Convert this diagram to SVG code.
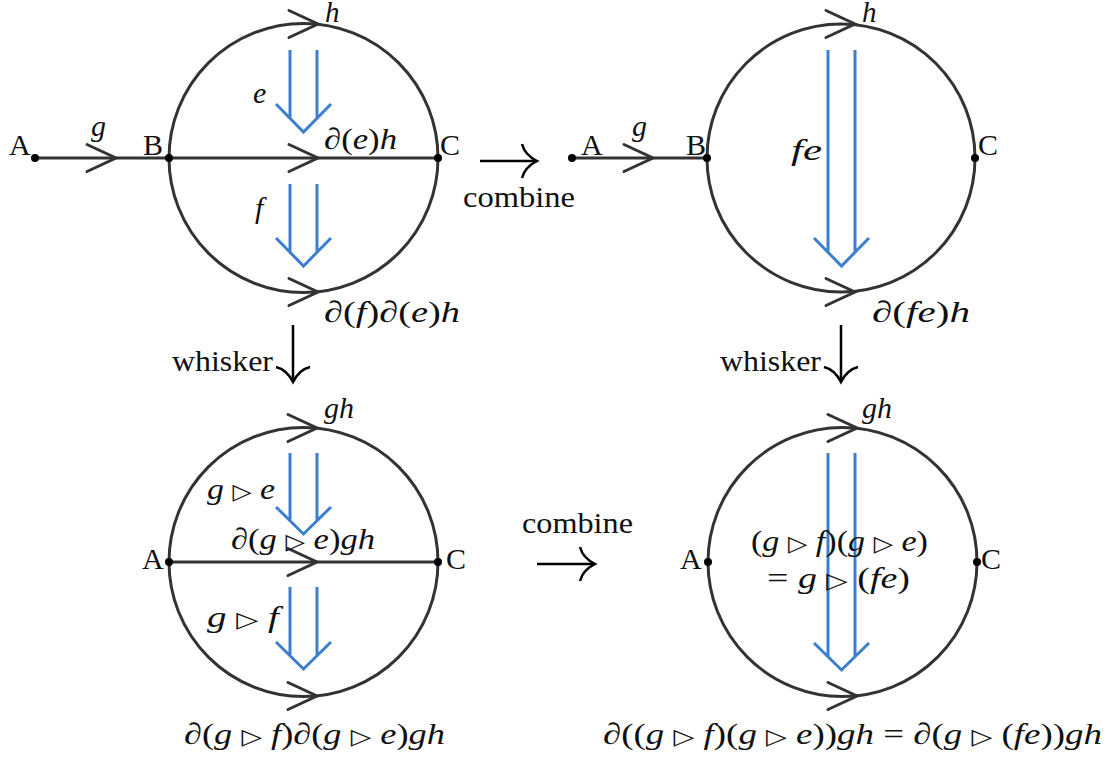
<svg xmlns="http://www.w3.org/2000/svg" xmlns:xlink="http://www.w3.org/1999/xlink" width="1111" height="760" viewBox="0 0 1111 760">
<style>
.ln{stroke:#333;stroke-width:3;fill:none;stroke-linecap:round}
.bl{stroke:#3d7fcf;stroke-width:3;fill:none}
.ar{stroke:#000;stroke-width:2.5;fill:none}
.dot{fill:#000}
.t{font-family:"Liberation Serif","DejaVu Serif",serif;font-size:30px;fill:#111}
.i{font-style:italic}
.s{font-family:"DejaVu Sans",sans-serif;font-size:22px;font-style:normal}
</style>
<defs>
<path id="chev" class="ln" d="M-29,-13.5 L0,0 L-29,13.5"/>
<path id="th" class="ar" d="M-15,-17 C-13,-9 -6,-3 0,0 C-6,3 -13,9 -15,17"/>
</defs>
<rect width="1111" height="760" fill="#fff"/>

<g id="panel-top-left">
<circle class="ln" cx="303.5" cy="158" r="134.5"/>
<line class="ln" x1="35" y1="158" x2="438" y2="158"/>
<use xlink:href="#chev" x="116" y="158"/>
<use xlink:href="#chev" x="318" y="24"/>
<use xlink:href="#chev" x="318" y="158"/>
<use xlink:href="#chev" x="318" y="292"/>
<path class="bl" d="M290,50 V118 M317,50 V118 M276,104 L303.5,132 L331,104"/>
<path class="bl" d="M290,184 V252 M317,184 V252 M276,238 L303.5,266 L331,238"/>
<circle class="dot" cx="35" cy="158" r="4"/>
<circle class="dot" cx="169" cy="158" r="4"/>
<circle class="dot" cx="438" cy="158" r="4"/>
<text class="t" x="9" y="155">A</text>
<text class="t i" x="91" y="136">g</text>
<text class="t" x="143" y="155">B</text>
<text class="t" x="440" y="155">C</text>
<text class="t i" x="325" y="22" style="font-size:29px">h</text>
<text class="t i" x="253" y="103">e</text>
<text class="t" x="324" y="149" textLength="73" lengthAdjust="spacingAndGlyphs">∂(<tspan class="i">e</tspan>)<tspan class="i">h</tspan></text>
<text class="t i" x="255" y="218">f</text>
<text class="t" x="324" y="322" textLength="136" lengthAdjust="spacingAndGlyphs">∂(<tspan class="i">f</tspan>)∂(<tspan class="i">e</tspan>)<tspan class="i">h</tspan></text>
</g>

<g id="panel-top-right">
<circle class="ln" cx="841" cy="158" r="134"/>
<line class="ln" x1="572" y1="158" x2="707" y2="158"/>
<use xlink:href="#chev" x="653" y="158"/>
<use xlink:href="#chev" x="855" y="24"/>
<use xlink:href="#chev" x="855" y="292"/>
<path class="bl" d="M828,50 V252 M855,50 V252 M814,238 L841.5,266 L869,238"/>
<circle class="dot" cx="572" cy="158" r="4"/>
<circle class="dot" cx="707" cy="158" r="4"/>
<circle class="dot" cx="975" cy="158" r="4"/>
<text class="t" x="581" y="155">A</text>
<text class="t i" x="632" y="136">g</text>
<text class="t" x="686" y="155">B</text>
<text class="t" x="978" y="155">C</text>
<text class="t i" x="862" y="22" style="font-size:29px">h</text>
<text class="t i" x="791" y="160" textLength="31" lengthAdjust="spacingAndGlyphs">fe</text>
<text class="t" x="872" y="322" textLength="98" lengthAdjust="spacingAndGlyphs">∂(<tspan class="i">fe</tspan>)<tspan class="i">h</tspan></text>
</g>

<g id="panel-bottom-left">
<circle class="ln" cx="303.5" cy="562" r="134.5"/>
<line class="ln" x1="169" y1="562" x2="438" y2="562"/>
<use xlink:href="#chev" x="317" y="428"/>
<use xlink:href="#chev" x="317" y="562"/>
<use xlink:href="#chev" x="317" y="696"/>
<path class="bl" d="M290,453 V521 M317,453 V521 M276,507 L303.5,534 L331,507"/>
<path class="bl" d="M290,587 V655 M317,587 V655 M276,642 L303.5,669 L331,642"/>
<circle class="dot" cx="169" cy="562" r="4"/>
<circle class="dot" cx="438" cy="562" r="4"/>
<text class="t" x="142" y="569">A</text>
<text class="t" x="446" y="569">C</text>
<text class="t i" x="324" y="418">gh</text>
<text class="t" x="207" y="499" textLength="68" lengthAdjust="spacingAndGlyphs"><tspan class="i">g</tspan> <tspan class="s">▷</tspan> <tspan class="i">e</tspan></text>
<text class="t" x="231" y="549" textLength="144" lengthAdjust="spacingAndGlyphs">∂(<tspan class="i">g</tspan> <tspan class="s">▷</tspan> <tspan class="i">e</tspan>)<tspan class="i">gh</tspan></text>
<text class="t" x="207" y="627" textLength="72" lengthAdjust="spacingAndGlyphs"><tspan class="i">g</tspan> <tspan class="s">▷</tspan> <tspan class="i">f</tspan></text>
<text class="t" x="184" y="744" textLength="261" lengthAdjust="spacingAndGlyphs">∂(<tspan class="i">g</tspan> <tspan class="s">▷</tspan> <tspan class="i">f</tspan>)∂(<tspan class="i">g</tspan> <tspan class="s">▷</tspan> <tspan class="i">e</tspan>)<tspan class="i">gh</tspan></text>
</g>

<g id="panel-bottom-right">
<circle class="ln" cx="842.5" cy="562" r="134.5"/>
<use xlink:href="#chev" x="857" y="428"/>
<use xlink:href="#chev" x="857" y="696"/>
<path class="bl" d="M828,453 V656 M855,453 V656 M814,643 L841.5,670 L869,643"/>
<circle class="dot" cx="708" cy="562" r="4"/>
<circle class="dot" cx="977" cy="562" r="4"/>
<text class="t" x="680" y="569">A</text>
<text class="t" x="981" y="569">C</text>
<text class="t i" x="862" y="418">gh</text>
<text class="t" x="751" y="551" textLength="177" lengthAdjust="spacingAndGlyphs">(<tspan class="i">g</tspan> <tspan class="s">▷</tspan> <tspan class="i">f</tspan>)(<tspan class="i">g</tspan> <tspan class="s">▷</tspan> <tspan class="i">e</tspan>)</text>
<text class="t" x="767" y="588" textLength="143" lengthAdjust="spacingAndGlyphs">= <tspan class="i">g</tspan> <tspan class="s">▷</tspan> (<tspan class="i">fe</tspan>)</text>
<text class="t" x="603" y="744" textLength="499" lengthAdjust="spacingAndGlyphs">∂((<tspan class="i">g</tspan> <tspan class="s">▷</tspan> <tspan class="i">f</tspan>)(<tspan class="i">g</tspan> <tspan class="s">▷</tspan> <tspan class="i">e</tspan>))<tspan class="i">gh</tspan> = ∂(<tspan class="i">g</tspan> <tspan class="s">▷</tspan> (<tspan class="i">fe</tspan>))<tspan class="i">gh</tspan></text>
</g>

<g id="connectors">
<g id="combine-top">
<line class="ar" x1="480" y1="161" x2="537" y2="161"/>
<use xlink:href="#th" transform="translate(537,161)"/>
<text class="t" x="463" y="207" textLength="112" lengthAdjust="spacingAndGlyphs">combine</text>
</g>
<g id="whisker-left">
<line class="ar" x1="293" y1="325" x2="293" y2="382"/>
<use xlink:href="#th" transform="translate(293,382) rotate(90)"/>
<text class="t" x="172" y="371" textLength="101" lengthAdjust="spacingAndGlyphs">whisker</text>
</g>
<g id="whisker-right">
<line class="ar" x1="841" y1="325" x2="841" y2="382"/>
<use xlink:href="#th" transform="translate(841,382) rotate(90)"/>
<text class="t" x="720" y="371" textLength="101" lengthAdjust="spacingAndGlyphs">whisker</text>
</g>
<g id="combine-bottom">
<line class="ar" x1="537" y1="564" x2="595" y2="564"/>
<use xlink:href="#th" transform="translate(595,564)"/>
<text class="t" x="522" y="533" textLength="111" lengthAdjust="spacingAndGlyphs">combine</text>
</g>
</g>
</svg>
